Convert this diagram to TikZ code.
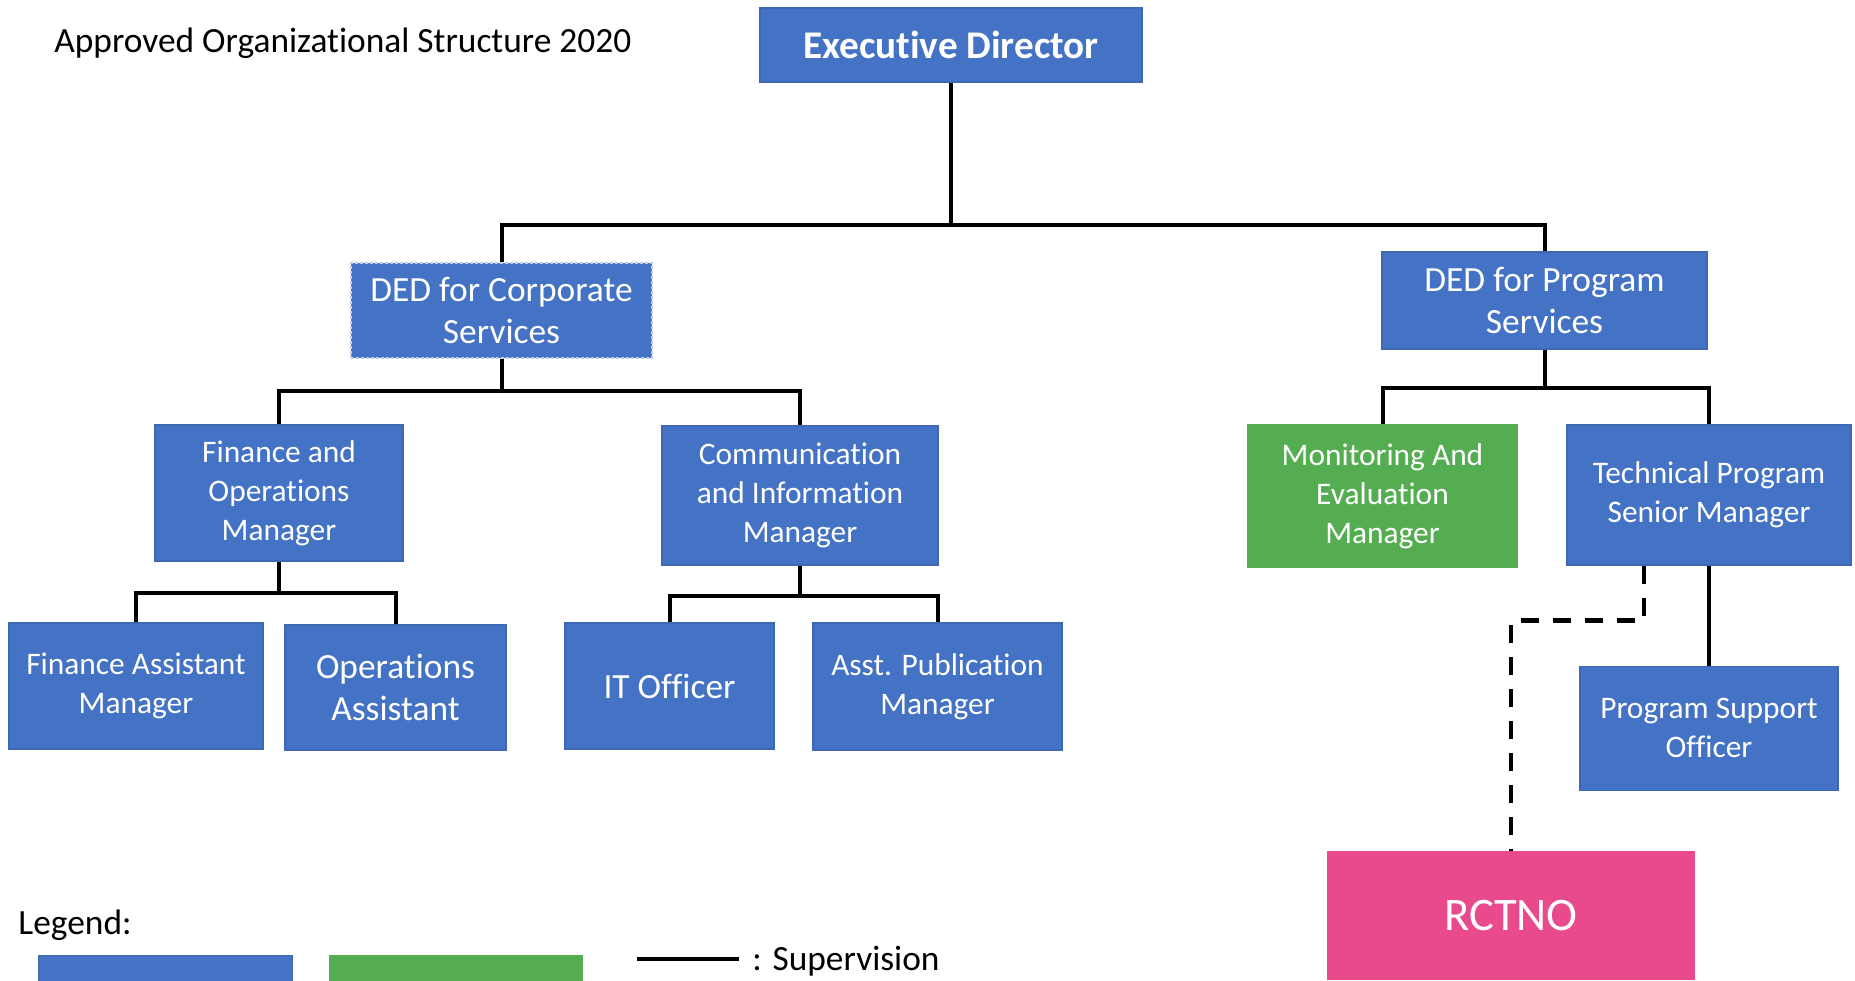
\documentclass[tikz,border=0pt]{standalone}
\usepackage{fontspec}
\setmainfont{Carlito}[Ligatures=NoCommon]
\usetikzlibrary{positioning,calc}
\definecolor{staffblue}{RGB}{68,114,196}
\definecolor{edgeblue}{RGB}{62,104,180}
\definecolor{consultgreen}{RGB}{84,174,81}
\definecolor{rctpink}{RGB}{233,74,139}

\begin{document}
\begin{tikzpicture}[
    x=0.5pt, y=-0.5pt,
    post/.style={rectangle, draw=edgeblue, line width=0.6pt, fill=staffblue,
                 text=white, align=center, inner sep=2pt,
                 font=\fontsize{15.7}{19.5}\selectfont},
    bigtext/.style={font=\fontsize{17.7}{21.3}\selectfont},
    sup/.style={line width=2pt},
    dashsup/.style={line width=2.3pt, dash pattern=on 9pt off 7pt},
  ]
    \useasboundingbox (0,0) rectangle (1855,980);

    % Title
    \node[anchor=west, inner sep=0pt, bigtext] (title) at (54,43.5) {Approved Organizational Structure 2020};

    % Top
    \node[post, minimum width=191pt, minimum height=37pt,
          font=\bfseries\fontsize{19.6}{23}\selectfont] (ed) at (951,45) {Executive Director};

    % Deputies
    \node[post, bigtext, draw=staffblue!35!white, dash pattern=on 1.5pt off 1pt,
          minimum width=150.5pt, minimum height=47.5pt] (dedcorp) at (501.5,310.5) {DED for Corporate\\Services};
    \node[post, bigtext, minimum width=162.5pt, minimum height=48.5pt] (dedprog) at (1544.5,300.5) {DED for Program\\Services};

    % Managers
    \node[post, minimum width=124pt, minimum height=68pt] (finops) at (279,493) {Finance and\\Operations\\Manager};
    \node[post, minimum width=138pt, minimum height=69.5pt] (comminfo) at (800,495.5) {Communication\\and Information\\Manager};
    \node[post, fill=consultgreen, draw=consultgreen, minimum width=134.5pt,
          minimum height=71pt] (monev) at (1382.5,496) {Monitoring And\\Evaluation\\Manager};
    \node[post, minimum width=142pt, minimum height=70pt] (techprog) at (1709,495) {Technical Program\\Senior Manager};

    % Staff
    \node[post, minimum width=127pt, minimum height=63pt] (finasst) at (136,686) {Finance Assistant\\Manager};
    \node[post, bigtext, minimum width=110.5pt, minimum height=62.5pt] (opsasst) at (395.5,687.5) {Operations\\Assistant};
    \node[post, bigtext, minimum width=104.5pt, minimum height=63pt] (itoff) at (669.5,686) {IT Officer};
    \node[post, minimum width=124.5pt, minimum height=63.5pt] (pubmgr) at (937.5,686.5) {Asst. Publication\\Manager};
    \node[post, minimum width=129pt, minimum height=62pt, below=50pt of techprog] (progsupp) {Program Support\\Officer};
    \node[post, fill=rctpink, draw=rctpink, font=\fontsize{23.3}{28}\selectfont,
          minimum width=183pt, minimum height=63.5pt] (rctno) at (1511,915.5) {RCTNO};

    % Supervision lines
    \coordinate (edbar) at (951,225);
    \draw[sup] (ed.south) -- (edbar);
    \draw[sup] (dedcorp.north) |- (edbar) -| (dedprog.north);

    \coordinate (corpbar) at ($(dedcorp.south)+(0,32)$);
    \draw[sup] (dedcorp.south) -- (corpbar);
    \draw[sup] (finops.north) |- (corpbar) -| (comminfo.north);

    \coordinate (progbar) at ($(dedprog.south)+(0,38)$);
    \draw[sup] (dedprog.south) -- (progbar);
    \draw[sup] (monev.north) |- (progbar) -| (techprog.north);

    \coordinate (finbar) at ($(finops.south)+(0,31)$);
    \draw[sup] (finops.south) -- (finbar);
    \draw[sup] (finasst.north) |- (finbar) -| (opsasst.north);

    \coordinate (commbar) at ($(comminfo.south)+(0,30)$);
    \draw[sup] (comminfo.south) -- (commbar);
    \draw[sup] (itoff.north) |- (commbar) -| (pubmgr.north);

    \draw[sup] (techprog.south) -- (progsupp.north);

    % Dashed link
    \coordinate (tap) at ($(techprog.south)+(-65,0)$);
    \draw[dashsup] (tap) -- ++(0,55) -| (rctno.north);

    % Legend
    \node[anchor=west, inner sep=0pt, bigtext] (legend) at (18,925.5) {Legend:};
    \node[post, anchor=north west, minimum width=127pt, minimum height=30pt] (legstaff) at (38,955) {};
    \node[post, fill=consultgreen, draw=consultgreen, anchor=north west,
          minimum width=126.5pt, minimum height=30pt] (legcons) at (329,955) {};
    \node[anchor=west, inner sep=0pt, bigtext] (legsup) at (752,961) {: Supervision};
    \draw[sup] ($(legsup.west)+(-115,-2)$) -- ($(legsup.west)+(-13,-2)$);
\end{tikzpicture}
\end{document}
